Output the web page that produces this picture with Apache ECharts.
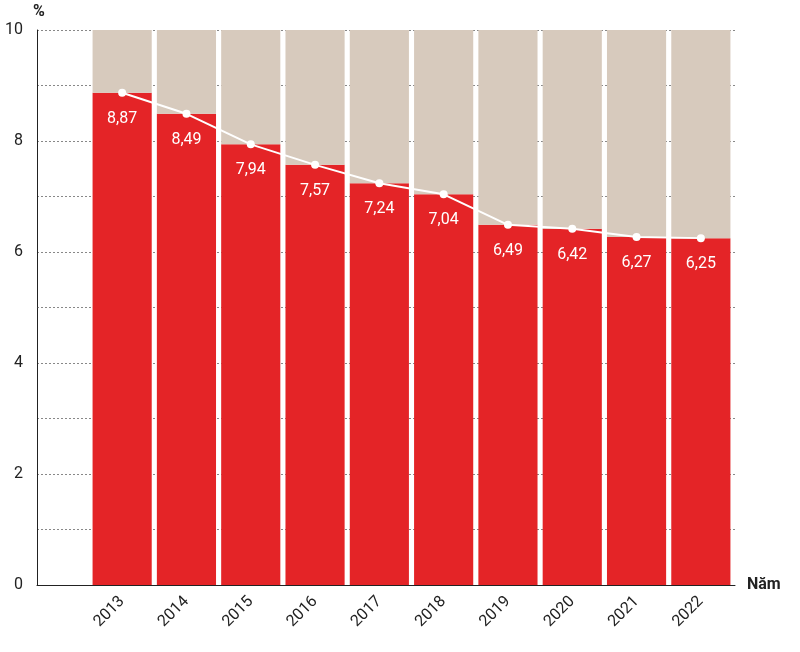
<!DOCTYPE html>
<html>
<head>
<meta charset="utf-8">
<script src="https://cdn.jsdelivr.net/npm/echarts@6/dist/echarts.min.js"></script>
<style>html,body{margin:0;padding:0;background:#fff}#chart{width:800px;height:652px}</style>
</head>
<body>
<div id="chart"></div>
<script>
var years = ['2013', '2014', '2015', '2016', '2017', '2018', '2019', '2020', '2021', '2022'];
var rates = [8.87, 8.49, 7.94, 7.57, 7.24, 7.04, 6.49, 6.42, 6.27, 6.25];
var yTicks = [0, 2, 4, 6, 8, 10];

var rest = rates.map(function (v) { return +(10 - v).toFixed(2); });
var font = 'Roboto, "Noto Sans", sans-serif';

var chart = echarts.init(document.getElementById('chart'));
chart.setOption({
    animation: false,
    grid: [
        {left: 37, right: 65, top: 30, bottom: 67},
        {left: 90, width: 643, top: 30, bottom: 67}
    ],
    xAxis: [
        {
            gridIndex: 0, type: 'value', min: 0, max: 1,
            axisLine: {show: true, onZero: false, lineStyle: {color: '#222', width: 1}},
            axisTick: {show: false}, axisLabel: {show: false}, splitLine: {show: false},
            name: 'Năm', nameLocation: 'end', nameGap: 12,
            nameTextStyle: {fontFamily: font, fontSize: 16, fontWeight: 'bold', color: '#222', padding: [30, 0, 0, 0]}
        },
        {
            gridIndex: 1, type: 'category', data: years,
            axisLine: {show: false}, axisTick: {show: false},
            axisLabel: {rotate: 45, fontFamily: font, fontSize: 16, color: '#222', margin: 14}
        }
    ],
    yAxis: [
        {
            gridIndex: 0, type: 'value', min: 0, max: 10, interval: 1,
            name: '%', nameLocation: 'end', nameGap: 10,
            nameTextStyle: {fontFamily: font, fontSize: 16, fontWeight: 'bold', color: '#222', align: 'left', padding: [0, 0, 0, -4]},
            axisLine: {show: true, lineStyle: {color: '#222'}},
            axisTick: {show: false},
            axisLabel: {
                fontFamily: font, fontSize: 16, color: '#222', margin: 14,
                formatter: function (v) { return yTicks.indexOf(v) >= 0 ? v : ''; }
            },
            splitLine: {show: true, lineStyle: {color: '#888', type: [2, 2], width: 1}}
        },
        {gridIndex: 1, type: 'value', min: 0, max: 10, show: false}
    ],
    series: [
        {
            type: 'bar', xAxisIndex: 1, yAxisIndex: 1, stack: 's', data: rates,
            barCategoryGap: '8%', itemStyle: {color: '#e42427'}, z: 2
        },
        {
            type: 'bar', xAxisIndex: 1, yAxisIndex: 1, stack: 's', data: rest,
            itemStyle: {color: '#d7cabd'}, z: 2
        },
        {
            type: 'line', xAxisIndex: 1, yAxisIndex: 1, data: rates, z: 5,
            symbol: 'circle', symbolSize: 8,
            lineStyle: {color: '#fff', width: 2}, itemStyle: {color: '#fff'},
            label: {
                show: true, position: 'bottom', distance: 14, color: '#fff',
                fontFamily: font, fontSize: 16,
                formatter: function (p) { return p.value.toFixed(2).replace('.', ','); }
            }
        }
    ]
});
</script>
</body>
</html>
